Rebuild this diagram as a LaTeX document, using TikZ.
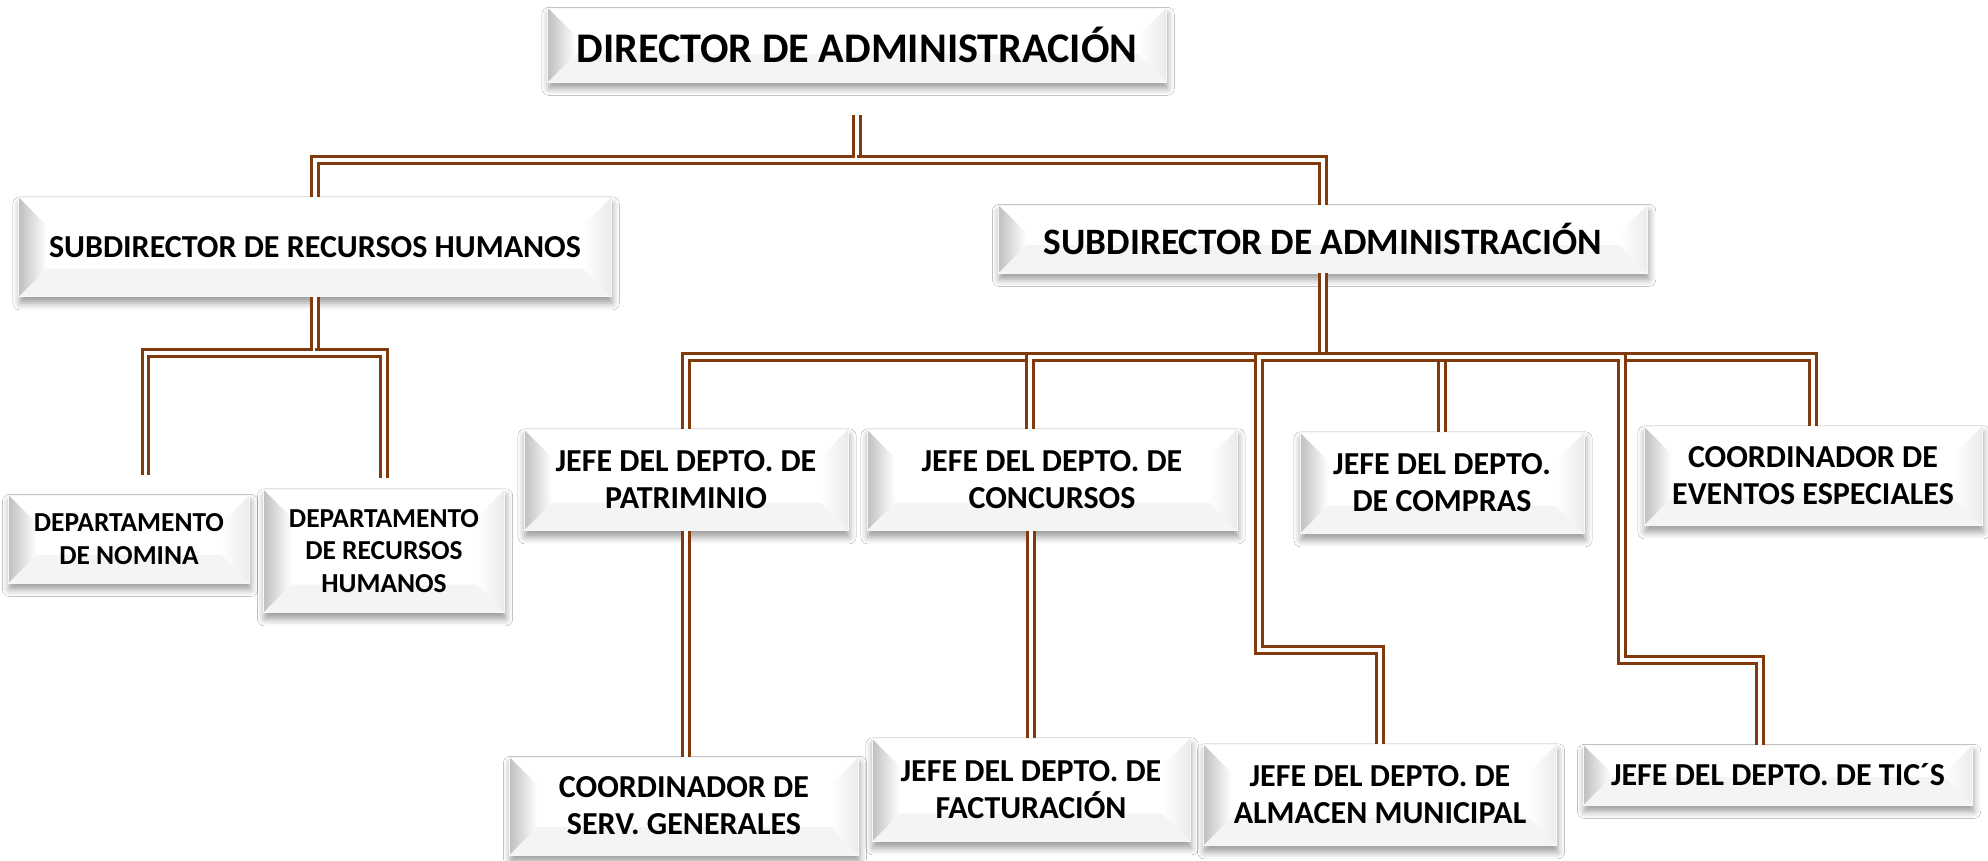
\documentclass[tikz,border=0pt]{standalone}
\usepackage{fontspec}
\setmainfont{Carlito}
\usepackage{tikz}
\usetikzlibrary{shadows.blur}

\definecolor{marron}{RGB}{128,58,14}

\tikzset{
  cargo/.style={fill=white, draw=gray!6, line width=0.2pt, inner sep=0pt, align=center,
    font=\bfseries\fontsize{9.1}{10.5}\selectfont,
    blur shadow={shadow xshift=0.3pt, shadow yshift=-1.8pt, shadow blur radius=2pt, shadow opacity=40},
    path picture={
      \fill[gray!9] (path picture bounding box.south west) -- ([shift={(28,-28)}]path picture bounding box.south west)
        -- ([shift={(-28,-28)}]path picture bounding box.south east) -- (path picture bounding box.south east) -- cycle;
      \shade[left color=gray!50, right color=white] (path picture bounding box.north west)
        -- ([shift={(28,28)}]path picture bounding box.north west) -- ([shift={(28,-28)}]path picture bounding box.south west)
        -- (path picture bounding box.south west) -- cycle;
      \shade[left color=white, right color=gray!16] (path picture bounding box.north east)
        -- ([shift={(-28,28)}]path picture bounding box.north east) -- ([shift={(-28,-28)}]path picture bounding box.south east)
        -- (path picture bounding box.south east) -- cycle;
    }},
  enlace/.style={draw=marron, line width=0.85pt, double=white, double distance=0.9pt}
}

\begin{document}
\begin{tikzpicture}[x=0.01cm, y=-0.01cm]
\path[use as bounding box, fill=white] (0,0) rectangle (1988,860);

% director
\node[cargo, minimum width=6.18cm, minimum height=0.74cm, font=\bfseries\fontsize{12}{14}\selectfont] (dir) at (857,45) {DIRECTOR DE ADMINISTRACIÓN};

% subdirectores
\node[cargo, minimum width=5.92cm, minimum height=0.99cm] (subrh) at (315,247) {SUBDIRECTOR DE RECURSOS HUMANOS};
\node[cargo, minimum width=6.49cm, minimum height=0.68cm, font=\bfseries\fontsize{10.6}{12.5}\selectfont] (subadm) at (1323,239) {SUBDIRECTOR DE ADMINISTRACIÓN};

% recursos humanos
\node[cargo, minimum width=2.41cm, minimum height=0.88cm, font=\bfseries\fontsize{7.8}{9.2}\selectfont] (nom) at (129,539) {DEPARTAMENTO\\DE NOMINA};
\node[cargo, minimum width=2.41cm, minimum height=1.23cm, font=\bfseries\fontsize{7.8}{9.3}\selectfont] (rhd) at (384,551) {DEPARTAMENTO\\DE RECURSOS\\HUMANOS};

% administracion
\node[cargo, minimum width=3.24cm, minimum height=1.01cm] (pat) at (686,480) {JEFE DEL DEPTO. DE\\PATRIMINIO};
\node[cargo, minimum width=3.70cm, minimum height=1.01cm] (con) at (1052,480) {JEFE DEL DEPTO. DE\\CONCURSOS};
\node[cargo, minimum width=2.84cm, minimum height=1.01cm] (com) at (1442,483) {JEFE DEL DEPTO.\\DE COMPRAS};
\node[cargo, minimum width=3.38cm, minimum height=0.99cm] (eve) at (1813,476) {COORDINADOR DE\\EVENTOS ESPECIALES};

% tercer nivel
\node[cargo, minimum width=3.49cm, minimum height=0.98cm] (sg) at (684,806) {COORDINADOR DE\\SERV. GENERALES};
\node[cargo, minimum width=3.18cm, minimum height=1.03cm] (fac) at (1031,790) {JEFE DEL DEPTO. DE\\FACTURACIÓN};
\node[cargo, minimum width=3.53cm, minimum height=1.01cm] (alm) at (1380,795) {JEFE DEL DEPTO. DE\\ALMACEN MUNICIPAL};
\node[cargo, minimum width=3.89cm, minimum height=0.60cm] (tic) at (1778,775) {JEFE DEL DEPTO. DE TIC´S};

% director -> subdirectores
\coordinate (b0) at (857,160);
\draw[enlace, shorten <=0.33cm] (dir.south) -- (b0) -| (subrh.north);
\draw[enlace] (b0) -| (subadm.north);

% subrh
\coordinate (b1) at (315,353);
\draw[enlace, shorten >=0.2cm] (subrh.south) -- (b1) -| ([xshift=0.165cm]nom.north);
\draw[enlace, shorten >=0.11cm] (b1) -| (rhd.north);

% subadm
\coordinate (b2) at (1323,357);
\draw[enlace] (subadm.south) -- (b2) -| (pat.north);
\draw[enlace] (b2) -| ([xshift=-0.22cm]con.north);
\draw[enlace] (b2) -| (com.north);
\draw[enlace] (b2) -| (eve.north);
\coordinate (q1) at (1259,650);
\draw[enlace] (b2) -| (q1) -| (alm.north);
\coordinate (q2) at (1622,660);
\draw[enlace] (b2) -| (q2) -| ([xshift=-0.18cm]tic.north);

% tercer nivel
\draw[enlace] (pat.south) -- (pat.south |- sg.north);
\draw[enlace] (fac.north |- con.south) -- (fac.north);
\end{tikzpicture}
\end{document}
